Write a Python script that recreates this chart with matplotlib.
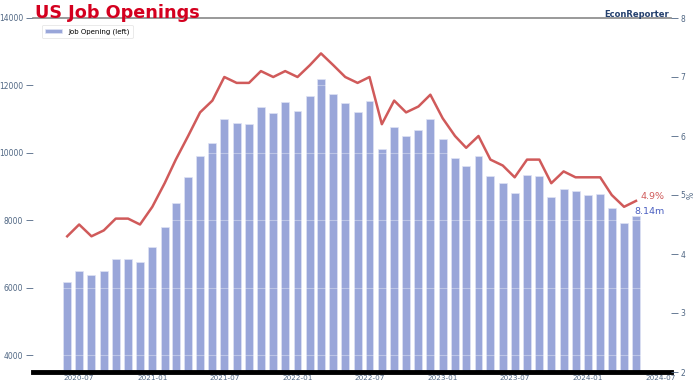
import numpy as np
import pandas as pd
import matplotlib
matplotlib.use('Agg')
import matplotlib.pyplot as plt
import matplotlib.dates as mdates

# monthly data, Jun 2020 - May 2024
months = pd.date_range('2020-06-01', periods=48, freq='MS')
job_openings = [6160, 6500, 6380, 6510, 6850, 6860, 6750, 7200, 7790, 8510,
                9280, 9900, 10300, 10990, 10890, 10870, 11350, 11170, 11500, 11230,
                11700, 12180, 11760, 11480, 11200, 11540, 10100, 10780, 10510, 10690,
                10990, 10420, 9840, 9620, 9900, 9300, 9120, 8800, 9350, 9300,
                8690, 8920, 8880, 8750, 8790, 8360, 7920, 8140]
opening_rate = [4.3, 4.5, 4.3, 4.4, 4.6, 4.6, 4.5, 4.8, 5.2, 5.6,
                6.0, 6.4, 6.6, 7.0, 6.9, 6.9, 7.1, 7.0, 7.1, 7.0,
                7.2, 7.4, 7.2, 7.0, 6.9, 7.0, 6.2, 6.6, 6.4, 6.5,
                6.7, 6.3, 6.0, 5.8, 6.0, 5.6, 5.5, 5.3, 5.6, 5.6,
                5.2, 5.4, 5.3, 5.3, 5.3, 5.0, 4.8, 4.9]

tick_col = '#506784'
bar_col = '#99a6d9'
line_col = '#d05a5a'

fig = plt.figure(figsize=(6.96, 3.85), dpi=100)
ax = fig.add_axes([33 / 696, 1 - 372 / 385, (671 - 33) / 696, (372 - 18) / 385])

ax.bar(months, job_openings, width=20, color=bar_col, edgecolor='#dfe3f4',
       linewidth=0.5, label='Job Opening (left)', zorder=1)
ax.set_ylim(3500, 14000)
ax.set_yticks(np.arange(4000, 14001, 2000))
for yv in np.arange(4000, 14001, 2000):
    ax.axhline(yv, color='white', alpha=0.35, linewidth=0.8, zorder=2)

ax.set_xlim(pd.Timestamp('2020-03-07'), pd.Timestamp('2024-07-28'))
ax.xaxis.set_major_locator(mdates.MonthLocator(bymonth=[1, 7]))
ax.xaxis.set_major_formatter(mdates.DateFormatter('%Y-%m'))
ax.tick_params(axis='x', length=2, width=0.6, color=tick_col, pad=0.5,
               labelsize=5.2, labelcolor=tick_col)
ax.tick_params(axis='y', length=5, width=0.6, color=tick_col, pad=2,
               labelsize=5.5, labelcolor=tick_col)

for s in ['left', 'right']:
    ax.spines[s].set_visible(False)
ax.spines['top'].set_color('#888888')
ax.spines['top'].set_linewidth(1.2)
ax.spines['bottom'].set_color('black')
ax.spines['bottom'].set_linewidth(3.5)

ax2 = ax.twinx()
ax2.plot(months, opening_rate, color=line_col, linewidth=1.8, zorder=3)
ax2.set_ylim(2, 8)
ax2.set_yticks(range(2, 9))
ax2.tick_params(axis='y', length=5, width=0.6, color=tick_col, pad=2,
                labelsize=5.5, labelcolor=tick_col)
ax2.set_ylabel('%', fontsize=5.5, color=tick_col, labelpad=1)
for s in ax2.spines.values():
    s.set_visible(False)

# end-of-series labels
ax2.annotate(f'{opening_rate[-1]}%', (months[-1], opening_rate[-1]),
             xytext=(3, 3), textcoords='offset points', fontsize=6.8,
             color=line_col, va='center')
ax.annotate(f'{job_openings[-1] / 1000:.2f}m', (months[-1], job_openings[-1]),
            xytext=(-1, 0), textcoords='offset points', fontsize=6.8,
            color='#4a5fc1', va='bottom')

leg = ax.legend(loc='upper left', bbox_to_anchor=(0.008, 0.99), fontsize=5,
                frameon=True, handlelength=2.5, handleheight=0.6,
                borderpad=0.5, fancybox=True)
leg.get_frame().set_edgecolor('#e0e0e0')
leg.get_frame().set_linewidth(0.6)

fig.text(35 / 696, 1 - 18.5 / 385, 'US Job Openings', fontsize=12.7,
         fontweight='bold', color='#d4001f', family='DejaVu Sans',
         va='baseline', ha='left')
fig.text(669 / 696, 1 - 17 / 385, 'EconReporter', fontsize=6,
         fontweight='bold', color='#24406e', va='baseline', ha='right')

fig.savefig('out.png', dpi=100)
